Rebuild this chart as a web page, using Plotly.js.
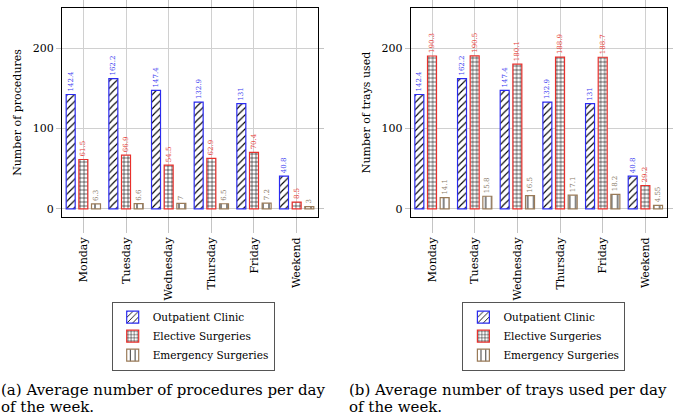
<!DOCTYPE html>
<html>
<head>
<meta charset="utf-8">
<script src="https://cdn.plot.ly/plotly-3.0.1.min.js"></script>
<style>
  html, body { margin: 0; padding: 0; background: #ffffff; }
  #chart { width: 677px; height: 416px; }
</style>
</head>
<body>
<div id="chart"></div>
<script>
// Days of the week shown on both panels
const days = ['Monday', 'Tuesday', 'Wednesday', 'Thursday', 'Friday', 'Weekend'];

// (a) Average number of procedures per day
const procOutpatient = [142.4, 162.2, 147.4, 132.9, 131, 40.8];
const procElective   = [61.5, 66.9, 54.5, 62.9, 70.4, 8.5];
const procEmergency  = [6.3, 6.6, 7, 6.5, 7.2, 3];

// (b) Average number of trays used per day
const trayOutpatient = [142.4, 162.2, 147.4, 132.9, 131, 40.8];
const trayElective   = [190.3, 190.5, 180.1, 188.9, 188.7, 29.2];
const trayEmergency  = [14.1, 15.8, 16.5, 17.1, 18.2, 4.55];

const seriesNames = ['Outpatient Clinic', 'Elective Surgeries', 'Emergency Surgeries'];
const yTicks = [0, 100, 200];

const FONT = 'DejaVu Serif';
const BLUE = '#2b2bf0';
const RED = '#e8302c';
const BROWN = '#9a7b58';

const styles = [
  { line: BLUE,  text: '#3a3af0', shape: '/', size: 5, solidity: 0.22 },
  { line: RED,   text: '#e83a36', shape: '+', size: 4, solidity: 0.26 },
  { line: BROWN, text: '#8a7a68', shape: '|', size: 6, solidity: 0.16 }
];

function barTrace(values, idx, xa, ya, legendId) {
  const s = styles[idx];
  return {
    type: 'bar',
    name: seriesNames[idx],
    x: days,
    y: values,
    xaxis: xa,
    yaxis: ya,
    legend: legendId,
    marker: {
      color: '#ffffff',
      line: { color: s.line, width: 1.2 },
      pattern: { shape: s.shape, fgcolor: '#000000', bgcolor: '#ffffff', size: s.size, solidity: s.solidity }
    },
    texttemplate: '%{y}',
    textposition: 'outside',
    textangle: -90,
    constraintext: 'none',
    cliponaxis: false,
    textfont: { family: FONT, size: 7, color: s.text },
    hoverinfo: 'skip'
  };
}

const data = [
  barTrace(procOutpatient, 0, 'x', 'y', 'legend'),
  barTrace(procElective, 1, 'x', 'y', 'legend'),
  barTrace(procEmergency, 2, 'x', 'y', 'legend'),
  barTrace(trayOutpatient, 0, 'x2', 'y2', 'legend2'),
  barTrace(trayElective, 1, 'x2', 'y2', 'legend2'),
  barTrace(trayEmergency, 2, 'x2', 'y2', 'legend2')
];

function xAxis(domain, anchor) {
  return {
    domain: domain,
    anchor: anchor,
    type: 'category',
    categoryorder: 'array',
    categoryarray: days,
    range: [-0.5, 5.5],
    tickangle: -90,
    ticks: 'outside',
    ticklen: 15,
    tickcolor: '#c4c4c4',
    tickwidth: 1,
    showgrid: true,
    gridcolor: '#d0d0d0',
    gridwidth: 1,
    showline: true,
    linecolor: '#000000',
    linewidth: 1,
    mirror: 'ticks',
    tickfont: { family: FONT, size: 11, color: '#000000' },
    automargin: false,
    fixedrange: true
  };
}

function yAxis(domain, anchor, title) {
  return {
    domain: domain,
    anchor: anchor,
    range: [-10, 250],
    tickvals: yTicks,
    ticks: 'outside',
    ticklen: 5,
    tickcolor: '#c4c4c4',
    showgrid: true,
    gridcolor: '#d0d0d0',
    gridwidth: 1,
    zeroline: false,
    showline: true,
    linecolor: '#000000',
    linewidth: 1,
    mirror: 'ticks',
    tickfont: { family: FONT, size: 11, color: '#000000' },
    title: { text: title, font: { family: FONT, size: 11, color: '#000000' }, standoff: 8 },
    automargin: false,
    fixedrange: true
  };
}

const yDomain = [0.4784, 0.9808];

function legendAt(x) {
  return {
    x: x,
    y: 0.2748,
    xanchor: 'left',
    yanchor: 'top',
    bgcolor: '#ffffff',
    bordercolor: '#555555',
    borderwidth: 1,
    font: { family: FONT, size: 10.5, color: '#000000' },
    tracegroupgap: 0,
    itemwidth: 30
  };
}

function captionLine(x, yCenter, text) {
  return {
    xref: 'paper', yref: 'paper', x: x, y: yCenter,
    xanchor: 'left', yanchor: 'middle', align: 'left', showarrow: false,
    borderpad: 0,
    text: text,
    font: { family: FONT, size: 15, color: '#000000' }
  };
}

const layout = {
  width: 677,
  height: 416,
  margin: { l: 0, r: 0, t: 0, b: 0 },
  font: { family: FONT, size: 11, color: '#000000' },
  paper_bgcolor: '#ffffff',
  plot_bgcolor: '#ffffff',
  barmode: 'group',
  bargap: 0.11,
  bargroupgap: 0.29,
  showlegend: true,
  xaxis: xAxis([0.0916, 0.4697], 'y'),
  yaxis: yAxis(yDomain, 'x', 'Number of procedures'),
  xaxis2: xAxis([0.6066, 0.9848], 'y2'),
  yaxis2: yAxis(yDomain, 'x2', 'Number of trays used'),
  legend: legendAt(0.165),
  legend2: legendAt(0.683),
  annotations: [
    captionLine(0, 1 - 390 / 416, '(a) Average number of procedures per day'),
    captionLine(0, 1 - 407 / 416, 'of the week.'),
    captionLine(0.514, 1 - 390 / 416, '(b) Average number of trays used per day'),
    captionLine(0.514, 1 - 407 / 416, 'of the week.')
  ]
};

Plotly.newPlot('chart', data, layout, { displayModeBar: false, staticPlot: true });
</script>
</body>
</html>
